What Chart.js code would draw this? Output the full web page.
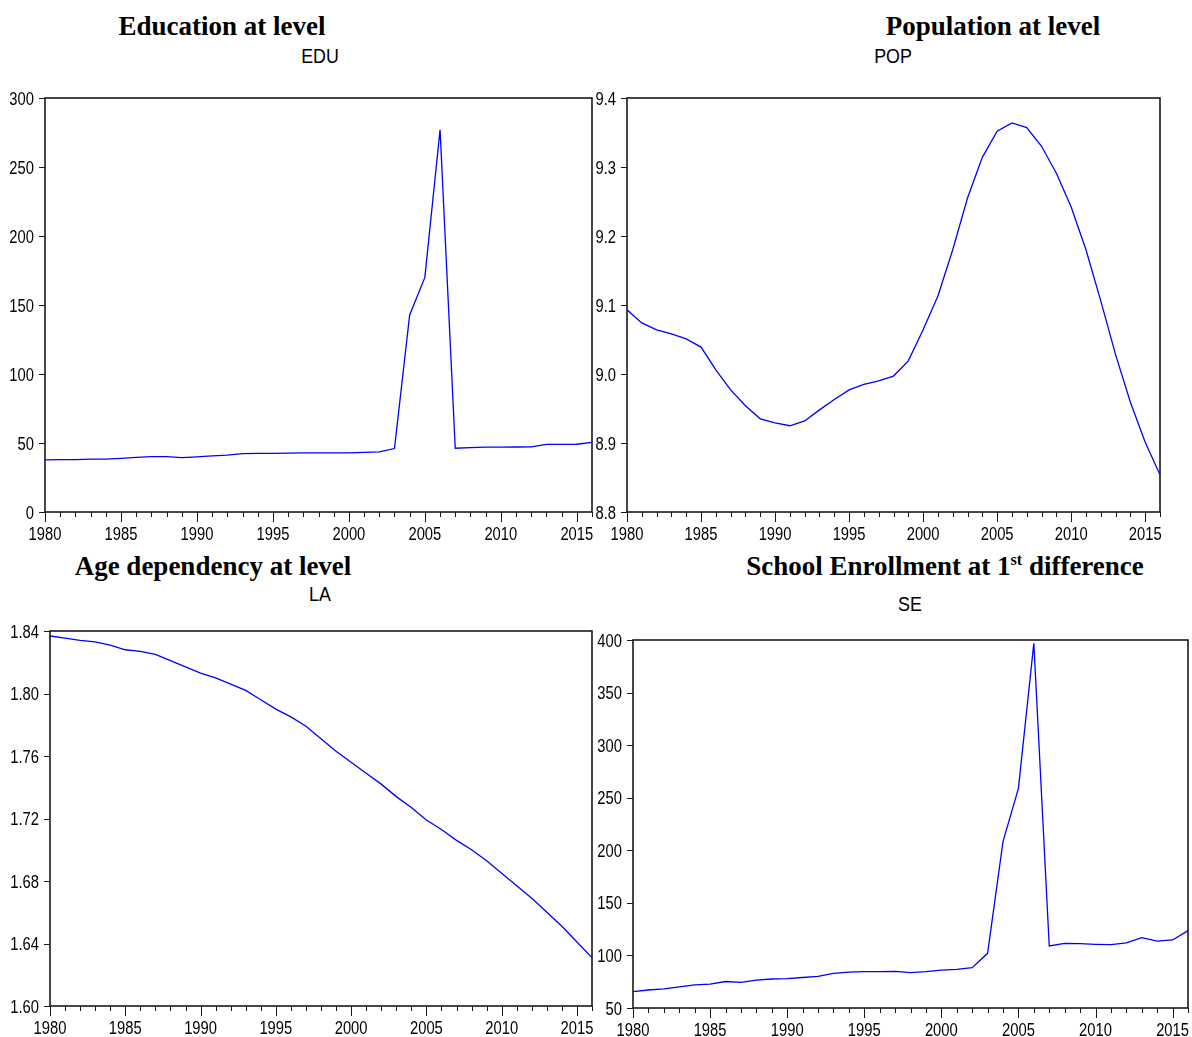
<!DOCTYPE html>
<html>
<head>
<meta charset="utf-8">
<script src="https://cdn.jsdelivr.net/npm/chart.js@4/dist/chart.umd.min.js"></script>
<style>
  body { margin: 0; background: #fff; width: 1192px; height: 1037px; position: relative; overflow: hidden; }
  canvas { position: absolute; }
  .t { position: absolute; white-space: nowrap; transform: translateX(-50%); line-height: 1; color: #000; }
  .big { font: bold 27px 'Liberation Serif', 'Times New Roman', serif; height: 27px; }
  .small { font: 21px 'Liberation Sans', Arial, sans-serif; height: 21px; transform: translateX(-50%) scaleX(0.85); }
  sup { font-size: 0.6em; line-height: 0; vertical-align: 0.6em; }
</style>
</head>
<body>
<div class="t big" style="left:222px;top:11px">Education at level</div>
<div class="t small" style="left:320px;top:44px">EDU</div>
<div class="t big" style="left:993px;top:11px">Population at level</div>
<div class="t small" style="left:893px;top:44px">POP</div>
<div class="t big" style="left:213px;top:551px">Age dependency at level</div>
<div class="t small" style="left:320px;top:582px">LA</div>
<div class="t big" style="left:945px;top:551px">School Enrollment at 1<sup>st</sup> difference</div>
<div class="t small" style="left:910px;top:592px">SE</div>

<canvas id="edu" width="600" height="454" style="left:0;top:86px"></canvas>
<canvas id="pop" width="612" height="454" style="left:580px;top:86px"></canvas>
<canvas id="la" width="600" height="415" style="left:0;top:619px"></canvas>
<canvas id="se" width="607" height="408" style="left:585px;top:628px"></canvas>

<script>
const years = [1980, 1981, 1982, 1983, 1984, 1985, 1986, 1987, 1988, 1989,
  1990, 1991, 1992, 1993, 1994, 1995, 1996, 1997, 1998, 1999,
  2000, 2001, 2002, 2003, 2004, 2005, 2006, 2007, 2008, 2009,
  2010, 2011, 2012, 2013, 2014, 2015, 2016];

const edu = [37.7, 38.0, 38.0, 38.3, 38.3, 38.9, 39.6, 40.1, 40.1, 39.4,
  40.0, 40.6, 41.2, 42.3, 42.5, 42.5, 42.6, 42.8, 42.9, 42.9,
  42.9, 43.2, 43.6, 46.0, 142.8, 170.0, 277.0, 46.2, 46.6, 47.0,
  47.0, 47.1, 47.2, 49.0, 49.0, 49.1, 50.4];

const pop = [9.093, 9.074, 9.064, 9.058, 9.051, 9.039, 9.006, 8.977, 8.954, 8.935,
  8.929, 8.925, 8.932, 8.948, 8.963, 8.977, 8.985, 8.990, 8.997, 9.019,
  9.064, 9.113, 9.180, 9.255, 9.314, 9.352, 9.364, 9.357, 9.330, 9.291,
  9.242, 9.180, 9.106, 9.028, 8.959, 8.901, 8.854];

const la = [1.8368, 1.8355, 1.834, 1.833, 1.831, 1.828, 1.827, 1.825, 1.821, 1.817,
  1.813, 1.810, 1.806, 1.802, 1.796, 1.790, 1.785, 1.779, 1.771, 1.763,
  1.756, 1.749, 1.742, 1.734, 1.727, 1.719, 1.713, 1.706, 1.700, 1.693,
  1.685, 1.677, 1.669, 1.660, 1.651, 1.641, 1.631];

const se = [65.5, 67.1, 68.1, 70.0, 71.9, 72.8, 75.2, 74.3, 76.6, 77.6,
  78.0, 79.0, 80.0, 83.0, 84.2, 84.6, 84.6, 84.9, 83.6, 84.6,
  86.1, 86.8, 88.4, 102.0, 208.2, 258.9, 396.9, 109.0, 111.5, 111.2,
  110.6, 110.3, 111.9, 116.9, 113.7, 114.7, 123.6];

const labelFont = "18px 'Liberation Sans', Arial, sans-serif";
const narrow = 0.82; // the original uses a condensed sans for tick labels

function narrowText(ctx, text, x, y, align) {
  ctx.save();
  ctx.translate(x, y);
  ctx.scale(narrow, 1);
  ctx.textAlign = align;
  ctx.fillText(text, 0, 0);
  ctx.restore();
}

// frame, outward tick marks and tick labels
const framePlugin = {
  id: 'frame',
  afterDraw(chart, args, opts) {
    const { ctx, chartArea: a, scales: { x, y } } = chart;
    ctx.save();
    ctx.strokeStyle = '#1a1a1a';
    ctx.lineWidth = 1;
    ctx.beginPath();
    x.ticks.forEach(t => {
      const px = Math.round(x.getPixelForValue(t.value)) + 0.5;
      const len = t.value % 5 === 0 ? 10 : 5;
      ctx.moveTo(px, a.bottom);
      ctx.lineTo(px, a.bottom + len);
    });
    y.ticks.forEach(t => {
      const py = Math.round(y.getPixelForValue(t.value)) + 0.5;
      ctx.moveTo(a.left - 6, py);
      ctx.lineTo(a.left, py);
    });
    ctx.stroke();
    ctx.lineWidth = 1.6;
    ctx.strokeRect(a.left, a.top, a.right - a.left, a.bottom - a.top);

    ctx.fillStyle = '#000';
    ctx.font = labelFont;
    ctx.textBaseline = 'alphabetic';
    x.ticks.forEach(t => {
      if (t.value % 5 !== 0) return;
      narrowText(ctx, String(t.value), x.getPixelForValue(t.value), a.bottom + 28, 'center');
    });
    y.ticks.forEach(t => {
      const txt = opts.digits ? Number(t.value).toFixed(opts.digits) : String(Math.round(t.value));
      narrowText(ctx, txt, a.left - 11, y.getPixelForValue(t.value) + 6.5, 'right');
    });
    ctx.restore();
  }
};

function makePanel(id, values, yMin, yMax, yStep, digits, yAxisW, padRight) {
  new Chart(document.getElementById(id), {
    type: 'line',
    data: {
      datasets: [{
        data: years.map((yr, i) => ({ x: yr, y: values[i] })),
        borderColor: '#0000ff',
        borderWidth: 1.3,
        pointRadius: 0,
        tension: 0,
        fill: false
      }]
    },
    options: {
      responsive: false,
      animation: false,
      layout: { padding: { top: 12, right: padRight, left: 0, bottom: 0 } },
      plugins: {
        legend: { display: false },
        tooltip: { enabled: false },
        frame: { digits: digits }
      },
      scales: {
        x: {
          type: 'linear',
          min: 1980,
          max: 2016,
          grid: { display: false },
          border: { display: false },
          ticks: { stepSize: 1, autoSkip: false, display: false },
          afterFit: s => { s.height = 28; }
        },
        y: {
          min: yMin,
          max: yMax,
          grid: { display: false },
          border: { display: false },
          ticks: { stepSize: yStep, display: false },
          afterFit: s => { s.width = yAxisW; }
        }
      }
    },
    plugins: [framePlugin]
  });
}

makePanel('edu', edu, 0, 300, 50, 0, 45, 8);
makePanel('pop', pop, 8.8, 9.4, 0.1, 1, 47, 32);
makePanel('la', la, 1.60, 1.84, 0.04, 2, 50, 8);
makePanel('se', se, 50, 400, 50, 0, 48, 4);
</script>
</body>
</html>
